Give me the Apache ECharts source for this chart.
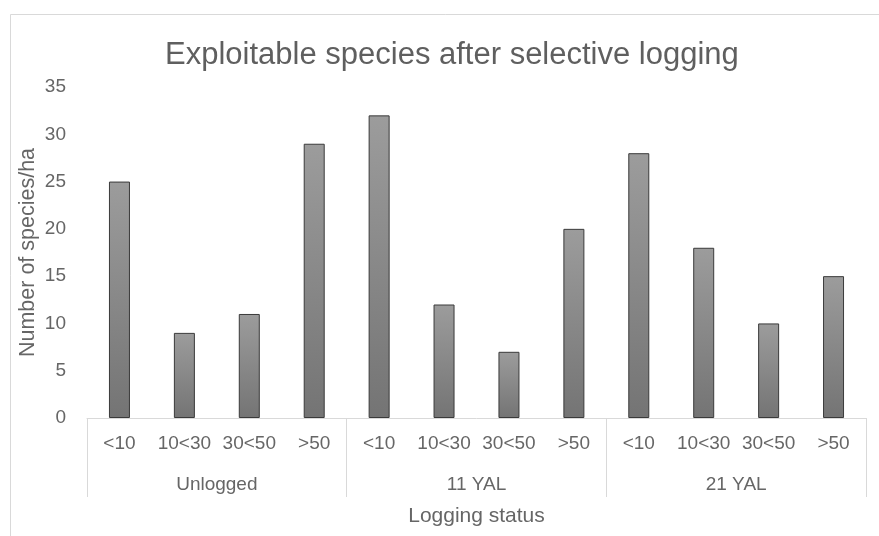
<!DOCTYPE html>
<html>
<head>
<meta charset="utf-8">
<script src="https://cdn.jsdelivr.net/npm/echarts@6/dist/echarts.min.js"></script>
<style>
html,body{margin:0;padding:0;background:#fff;}
#chart{width:879px;height:536px;}
</style>
</head>
<body>
<div id="chart"></div>
<script>
const sizeClasses = ['<10', '10<30', '30<50', '>50'];
const groups = ['Unlogged', '11 YAL', '21 YAL'];
const unlogged = [25, 9, 11, 29];
const yal11 = [32, 12, 7, 20];
const yal21 = [28, 18, 10, 15];
const yTicks = [0, 5, 10, 15, 20, 25, 30, 35];

const categories = [];
groups.forEach(g => sizeClasses.forEach(s => categories.push(s)));
const values = unlogged.concat(yal11, yal21);

const FONT = '"Liberation Sans", Arial, sans-serif';
const TXT = '#666666';

const chart = echarts.init(document.getElementById('chart'), null, {renderer: 'canvas'});
chart.setOption({
  animation: false,
  backgroundColor: '#ffffff',
  textStyle: {fontFamily: FONT},
  title: {
    text: 'Exploitable species after selective logging',
    left: 160,
    top: 35,
    textStyle: {fontFamily: FONT, fontSize: 31, fontWeight: 'normal', color: '#5f5f5f'}
  },
  graphic: [{
    type: 'rect',
    shape: {x: 10.5, y: 14.5, width: 900, height: 600},
    style: {fill: 'none', stroke: '#d9d9d9', lineWidth: 1},
    silent: true, z: -10
  }],
  grid: {left: 87, right: 13, top: 87, bottom: 118, containLabel: false},
  xAxis: [{
    type: 'category',
    data: categories,
    position: 'bottom',
    axisLine: {show: true, lineStyle: {color: '#d9d9d9', width: 1}},
    axisTick: {show: false},
    axisLabel: {margin: 16, fontSize: 19, color: TXT, fontFamily: FONT, interval: 0},
    splitLine: {show: false}
  }, {
    type: 'category',
    data: groups,
    position: 'bottom',
    axisLine: {show: false},
    axisTick: {show: true, length: 79, lineStyle: {color: '#d9d9d9', width: 1}},
    axisLabel: {margin: 57, fontSize: 19, color: TXT, fontFamily: FONT, interval: 0},
    name: 'Logging status',
    nameLocation: 'middle',
    nameGap: 88,
    nameMoveOverlap: false,
    nameTextStyle: {fontSize: 21, color: TXT, fontFamily: FONT}
  }],
  yAxis: {
    type: 'value',
    min: yTicks[0],
    max: yTicks[yTicks.length - 1],
    interval: 5,
    axisLine: {show: false},
    axisTick: {show: false},
    splitLine: {show: false},
    axisLabel: {margin: 21, fontSize: 19, color: TXT, fontFamily: FONT},
    name: 'Number of species/ha',
    nameLocation: 'middle',
    nameGap: 48,
    nameMoveOverlap: false,
    nameTextStyle: {fontSize: 21.5, color: TXT, fontFamily: FONT}
  },
  series: [{
    type: 'bar',
    xAxisIndex: 0,
    data: values,
    barWidth: 21,
    itemStyle: {
      color: new echarts.graphic.LinearGradient(0, 0, 0, 1, [
        {offset: 0, color: '#9c9c9c'},
        {offset: 1, color: '#747474'}
      ]),
      borderColor: '#3a3a3a',
      borderWidth: 1
    }
  }]
});
</script>
</body>
</html>
